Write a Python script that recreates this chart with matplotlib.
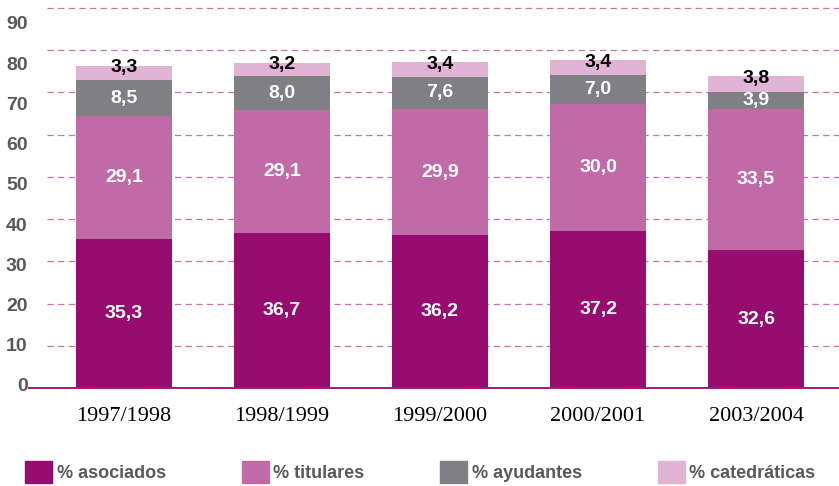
import numpy as np
import matplotlib
matplotlib.use("Agg")
import matplotlib.pyplot as plt
from matplotlib.patches import Patch

# data
years = ["1997/1998", "1998/1999", "1999/2000", "2000/2001", "2003/2004"]
asociados = [35.3, 36.7, 36.2, 37.2, 32.6]
titulares = [29.1, 29.1, 29.9, 30.0, 33.5]
ayudantes = [8.5, 8.0, 7.6, 7.0, 3.9]
catedraticas = [3.3, 3.2, 3.4, 3.4, 3.8]
series_names = ["% asociados", "% titulares", "% ayudantes", "% catedráticas"]
y_ticks = [0, 10, 20, 30, 40, 50, 60, 70, 80, 90]

colors = ["#970c6f", "#c06aa8", "#808084", "#e1b4d5"]
text_colors = ["white", "white", "white", "black"]
grey = "#58595b"

plt.rcParams["font.family"] = "Liberation Sans"


def fmt(v):
    return f"{v:.1f}".replace(".", ",")


fig = plt.figure(figsize=(8.39, 4.86), dpi=100)
rect = [29 / 839, 98 / 486, 810 / 839, 384.2 / 486]
ax = fig.add_axes(rect)

x = np.arange(len(years))
bottom = np.zeros(len(years))
for vals, col, tcol in zip([asociados, titulares, ayudantes, catedraticas], colors, text_colors):
    vals = np.array(vals)
    ax.bar(x, vals, 0.61, bottom=bottom, color=col, zorder=3)
    for xi, b, v in zip(x, bottom, vals):
        # the small top segment has its label sitting on the top edge
        y = b + v - 0.4 if tcol == "black" else b + v / 2
        ax.text(xi, y, fmt(v), ha="center", va="center", color=tcol,
                fontsize=14, fontweight="bold", zorder=5)
    bottom += vals

ax.set_xlim(-0.601, 4.525)
ax.set_ylim(0, 91)

# dashed guide lines and the baseline
for v in y_ticks[1:]:
    ax.axhline(v, xmin=18 / 810, color="#cc6fae", lw=0.9, ls=(0, (5, 3.5)), zorder=1)
ax.axhline(0, color="#a3197a", lw=1.4, zorder=4, clip_on=False)

ax.set_xticks(x, years, fontfamily="Liberation Serif", fontsize=16)
ax.tick_params(axis="x", length=0, pad=14)
ax.set_yticks([])
for s in ax.spines.values():
    s.set_visible(False)

# the y labels in the original sit on a slightly different scale than the grid
ax2 = fig.add_axes(rect, frameon=False)
ax2.set_ylim(-0.746, 94.77)
ax2.set_yticks(y_ticks)
ax2.set_xticks([])
ax2.tick_params(axis="y", length=0, pad=1, labelsize=14, labelcolor=grey)
for lab in ax2.get_yticklabels():
    lab.set_fontweight("bold")

handles = [Patch(color=c) for c in colors]
fig.legend(handles, series_names, loc="center left", bbox_to_anchor=(25 / 839, 0.029),
           ncol=4, frameon=False, labelcolor=grey,
           prop={"weight": "bold", "size": 13},
           handlelength=1.5, handleheight=1.55, handletextpad=0.25,
           columnspacing=4.2, borderaxespad=0, borderpad=0)

fig.savefig("out.png", dpi=100)
